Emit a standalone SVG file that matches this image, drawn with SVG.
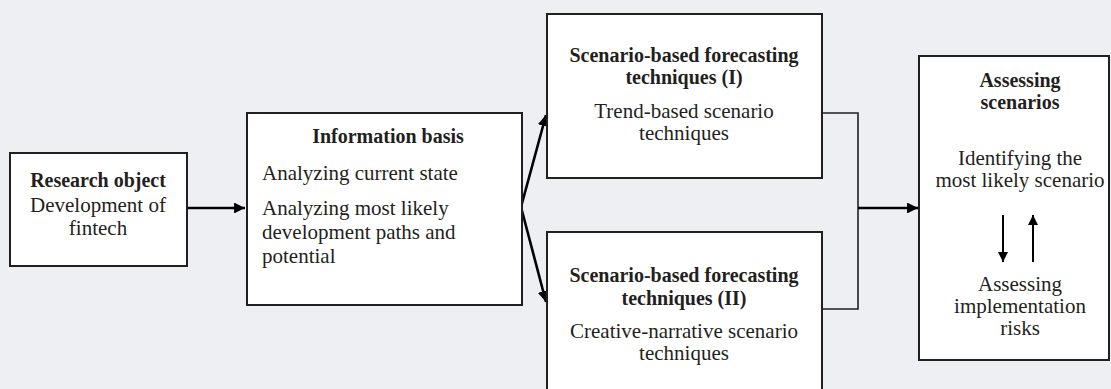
<svg xmlns="http://www.w3.org/2000/svg" width="1111" height="389" viewBox="0 0 1111 389">
<style>
.box{fill:#fff;stroke:#231f20;stroke-width:2}
text{font-family:"Liberation Serif","Times New Roman",serif;font-size:21px;fill:#231f20}
.b{font-weight:bold;font-size:20px}
.c{text-anchor:middle}
.arr{stroke:#000;stroke-width:2.6;fill:none}
.thin{stroke:#231f20;stroke-width:1.6;fill:none}
.mid{stroke:#000;stroke-width:2;fill:none}
</style>
<defs>
<marker id="ah" viewBox="0 0 10 10" refX="10" refY="5" markerWidth="4.2" markerHeight="4.2" orient="auto" markerUnits="strokeWidth">
<path d="M0,0 L10,5 L0,10 Z" fill="#000"/>
</marker>
<marker id="ah2" viewBox="0 0 10 10" refX="10" refY="5" markerWidth="5.5" markerHeight="5" orient="auto" markerUnits="strokeWidth">
<path d="M0,0 L10,5 L0,10 Z" fill="#000"/>
</marker>
</defs>
<rect width="1111" height="389" fill="#eeeff3"/>
<g id="connectors">
<line class="arr" x1="187" y1="208" x2="245" y2="208" marker-end="url(#ah)"/>
<line class="arr" x1="521" y1="207" x2="546" y2="115" marker-end="url(#ah)"/>
<line class="arr" x1="521" y1="207" x2="546" y2="302" marker-end="url(#ah)"/>
<polyline class="thin" points="822,113 858,113 858,309 822,309"/>
<line class="arr" x1="858" y1="208" x2="918" y2="208" marker-end="url(#ah)"/>
</g>
<g id="research-object">
<rect class="box" x="10" y="153" width="177" height="113"/>
<text class="b c" x="98" y="187">Research object</text>
<text class="c" x="98" y="212">Development of</text>
<text class="c" x="98" y="235">fintech</text>
</g>
<g id="information-basis">
<rect class="box" x="247" y="113" width="275" height="192"/>
<text class="b c" x="388" y="143">Information basis</text>
<text x="262" y="180">Analyzing current state</text>
<text x="262" y="215">Analyzing most likely</text>
<text x="262" y="239">development paths and</text>
<text x="262" y="263">potential</text>
</g>
<g id="techniques-1">
<rect class="box" x="547" y="14" width="275" height="164"/>
<text class="b c" x="684" y="62">Scenario-based forecasting</text>
<text class="b c" x="684" y="84">techniques (I)</text>
<text class="c" x="684" y="118">Trend-based scenario</text>
<text class="c" x="684" y="140">techniques</text>
</g>
<g id="techniques-2">
<rect class="box" x="547" y="232" width="275" height="162"/>
<text class="b c" x="684" y="282">Scenario-based forecasting</text>
<text class="b c" x="684" y="305">techniques (II)</text>
<text class="c" x="684" y="338">Creative-narrative scenario</text>
<text class="c" x="684" y="360">techniques</text>
</g>
<g id="assessing-scenarios">
<rect class="box" x="919" y="56" width="190" height="304"/>
<text class="b c" x="1020" y="87">Assessing</text>
<text class="b c" x="1020" y="109">scenarios</text>
<text class="c" x="1020" y="165">Identifying the</text>
<text class="c" x="1020" y="187">most likely scenario</text>
<line class="mid" x1="1003" y1="215" x2="1003" y2="262" marker-end="url(#ah2)"/>
<line class="mid" x1="1033" y1="262" x2="1033" y2="215" marker-end="url(#ah2)"/>
<text class="c" x="1020" y="291">Assessing</text>
<text class="c" x="1020" y="313">implementation</text>
<text class="c" x="1020" y="335">risks</text>
</g>
</svg>
